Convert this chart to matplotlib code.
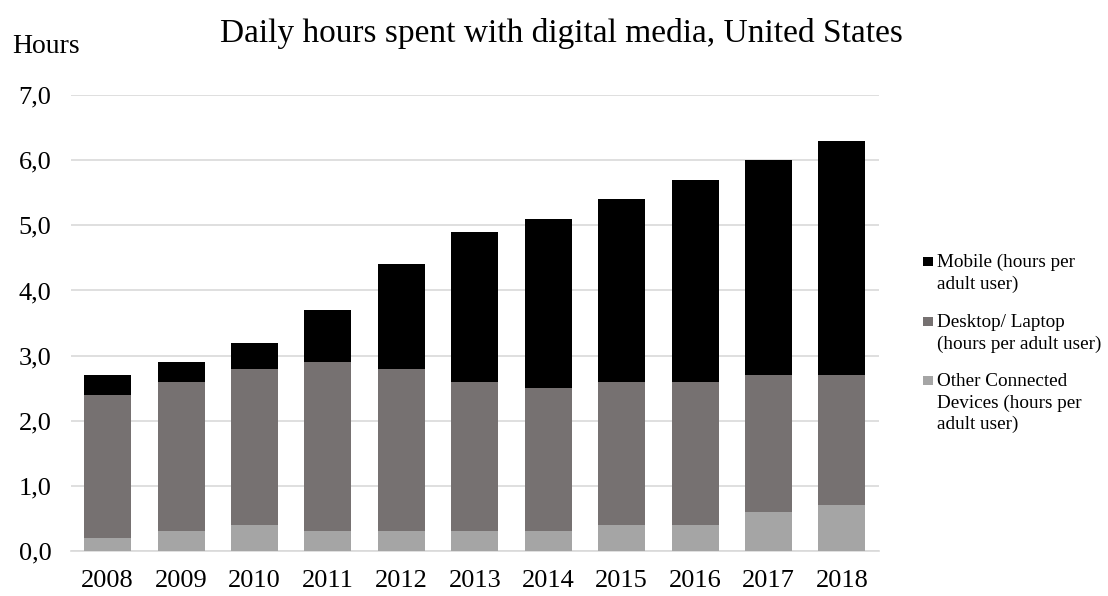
import matplotlib
matplotlib.use("Agg")
import matplotlib.pyplot as plt
from matplotlib.patches import Rectangle
from matplotlib.ticker import FuncFormatter

# Horas diárias por dispositivo (EUA)
anos = ["2008", "2009", "2010", "2011", "2012", "2013", "2014", "2015", "2016", "2017", "2018"]
outros = [0.2, 0.3, 0.4, 0.3, 0.3, 0.3, 0.3, 0.4, 0.4, 0.6, 0.7]
desktop = [2.2, 2.3, 2.4, 2.6, 2.5, 2.3, 2.2, 2.2, 2.2, 2.1, 2.0]
mobile = [0.3, 0.3, 0.4, 0.8, 1.6, 2.3, 2.6, 2.8, 3.1, 3.3, 3.6]

rotulos = ["Mobile (hours per\nadult user)",
           "Desktop/ Laptop\n(hours per adult user)",
           "Other Connected\nDevices (hours per\nadult user)"]
cores = ["#000000", "#767171", "#A5A5A5"]

plt.rcParams["font.family"] = ["Liberation Serif", "DejaVu Serif"]

fig = plt.figure(figsize=(11.08, 5.96), dpi=100)
ax = fig.add_axes([0.064, 0.0755, 0.729, 0.765])

x = list(range(len(anos)))
base_desktop = outros
base_mobile = [o + d for o, d in zip(outros, desktop)]

largura = 0.64
ax.bar(x, outros, width=largura, color=cores[2], zorder=3)
ax.bar(x, desktop, width=largura, bottom=base_desktop, color=cores[1], zorder=3)
ax.bar(x, mobile, width=largura, bottom=base_mobile, color=cores[0], zorder=3)

ax.set_xlim(-0.5, len(anos) - 0.5)
ax.set_ylim(0, 7)
ax.set_yticks([i for i in range(8)])
ax.yaxis.set_major_formatter(FuncFormatter(lambda v, p: f"{v:.1f}".replace(".", ",")))
ax.set_xticks(x)
ax.set_xticklabels(anos)
ax.tick_params(axis="both", length=0, labelsize=19, colors="black")
ax.tick_params(axis="y", pad=14)
ax.tick_params(axis="x", pad=14)
ax.grid(axis="y", color="#D9D9D9", linewidth=1.2, zorder=0)
for lado in ["top", "right", "left"]:
    ax.spines[lado].set_visible(False)
ax.spines["bottom"].set_color("#D9D9D9")
ax.spines["bottom"].set_linewidth(1.2)

fig.text(0.507, 0.943, "Daily hours spent with digital media, United States",
         ha="center", va="center", fontsize=24)
fig.text(0.011, 0.922, "Hours", ha="left", va="center", fontsize=20)

# Legenda manual: quadrado alinhado com a primeira linha de cada rótulo
W, H = fig.get_size_inches() * fig.dpi
baselines = [267, 327, 386]
entrelinha = 21.5
for cor, rotulo, yb in zip(cores, rotulos, baselines):
    fig.add_artist(Rectangle((923 / W, 1 - (yb - 1) / H), 9.5 / W, 9.5 / H,
                             facecolor=cor, edgecolor="none",
                             transform=fig.transFigure))
    for i, linha in enumerate(rotulo.split("\n")):
        fig.text(937 / W, 1 - (yb + i * entrelinha) / H, linha,
                 ha="left", va="baseline", fontsize=13.8)

fig.savefig("out.png", dpi=100)
plt.close()
